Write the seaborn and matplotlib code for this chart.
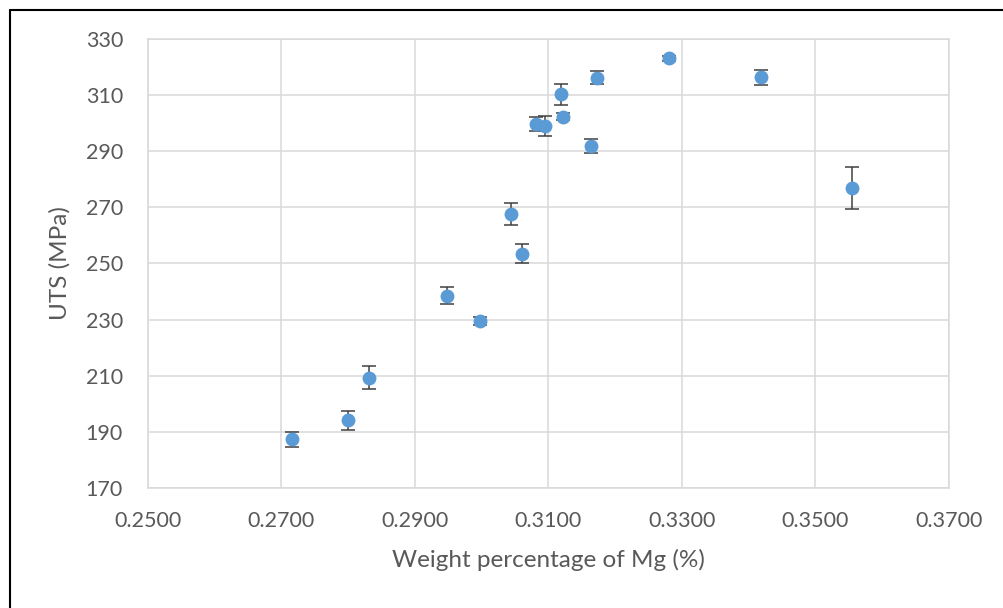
import matplotlib
matplotlib.use("Agg")
import matplotlib.pyplot as plt
from matplotlib.lines import Line2D
import seaborn as sns
import pandas as pd

# Mg content (wt %), tensile strength (MPa) and its error bar half-width
mg = [0.2716, 0.2799, 0.2831, 0.2948, 0.2997, 0.3044, 0.3061, 0.3082,
      0.3095, 0.3119, 0.3121, 0.3164, 0.3172, 0.3280, 0.3418, 0.3554]
uts = [187.4, 194.2, 209.3, 238.5, 229.5, 267.6, 253.4, 299.7,
       299.0, 310.3, 302.3, 291.9, 316.2, 323.1, 316.3, 277.0]
err = [2.7, 3.4, 4.0, 3.1, 1.5, 3.8, 3.4, 2.5,
       3.4, 3.8, 1.2, 2.5, 2.3, 1.0, 2.7, 7.5]

xticks = [0.25, 0.27, 0.29, 0.31, 0.33, 0.35, 0.37]
yticks = [170, 190, 210, 230, 250, 270, 290, 310, 330]

df = pd.DataFrame({'mg': mg, 'uts': uts, 'err': err})

sns.set_style('white')
plt.rcParams['font.family'] = ['Lato', 'DejaVu Sans']

fig = plt.figure(figsize=(10.04, 6.08), dpi=100)
ax = fig.add_axes([0.1474, 0.1974, 0.7978, 0.7385])

grid_c = '#d9d9d9'
text_c = '#595959'

ax.errorbar(df['mg'], df['uts'], yerr=df['err'], fmt='none', ecolor='#404040',
            elinewidth=1.1, capsize=4.7, capthick=1.1, zorder=3)
sns.scatterplot(data=df, x='mg', y='uts', ax=ax, s=100, color='#5b9bd5',
                edgecolor='#5b9bd5', linewidth=0, alpha=1, zorder=4)

ax.set_xlim(0.25, 0.37)
ax.set_ylim(170, 330)
ax.set_xticks(xticks)
ax.set_xticklabels([f'{t:.4f}' for t in xticks])
ax.set_yticks(yticks)
ax.set_yticklabels([str(t) for t in yticks])
ax.grid(True, color=grid_c, linewidth=1.1)
ax.set_axisbelow(True)
for sp in ax.spines.values():
    sp.set_color(grid_c)
    sp.set_linewidth(1.1)
ax.tick_params(axis='both', length=0, labelsize=15.5, colors=text_c)
ax.tick_params(axis='x', pad=16.5)
ax.tick_params(axis='y', pad=18)

ax.set_xlabel('Weight percentage of Mg (%)', fontsize=17.5, color=text_c, labelpad=13)
ax.set_ylabel('UTS (MPa)', fontsize=17.5, color=text_c, labelpad=11)

# dark frame of the original screenshot, left and top edges
fig.add_artist(Line2D([10 / 1004, 10 / 1004], [0, 1 - 10 / 608], color='black', linewidth=1.5))
fig.add_artist(Line2D([10 / 1004, 1], [1 - 10 / 608, 1 - 10 / 608], color='black', linewidth=1.5))

fig.savefig('out.png', dpi=100)
